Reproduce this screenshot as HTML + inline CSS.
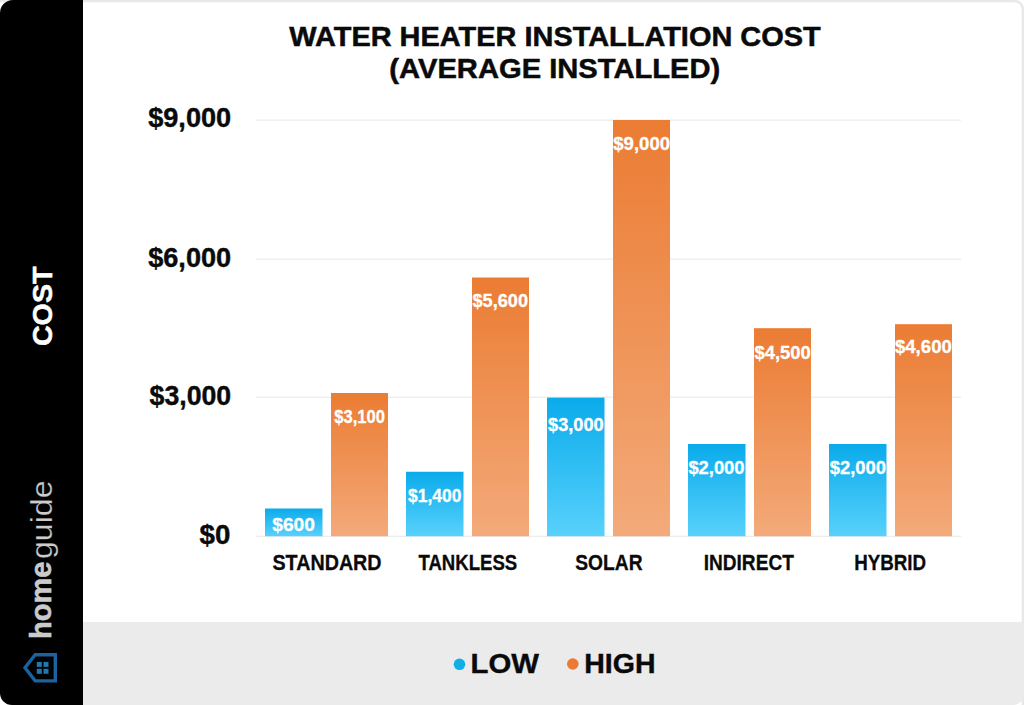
<!DOCTYPE html>
<html>
<head>
<meta charset="utf-8">
<style>
html,body{margin:0;padding:0;background:#fff;width:1024px;height:705px;overflow:hidden;}
svg{display:block;}
text{font-family:"Liberation Sans", sans-serif;}
</style>
</head>
<body>
<svg width="1024" height="705" viewBox="0 0 1024 705">
  <defs>
    <linearGradient id="gb" x1="0" y1="0" x2="0" y2="1">
      <stop offset="0" stop-color="#0aabeb"/>
      <stop offset="1" stop-color="#58d1fc"/>
    </linearGradient>
    <linearGradient id="go" x1="0" y1="0" x2="0" y2="1">
      <stop offset="0" stop-color="#eb7c33"/>
      <stop offset="1" stop-color="#f3aa7a"/>
    </linearGradient>
  </defs>
  <rect x="-20" y="1.15" width="1042.85" height="740" rx="8" ry="8" fill="#fff" stroke="#e8e8e8" stroke-width="2.3"/>
  <path d="M83 622 H1024 V694 A11 11 0 0 1 1013 705 H83 Z" fill="#ebebeb"/>
  <path d="M13 0 H83 V705 H12 A12 12 0 0 1 0 693 V13 A13 13 0 0 1 13 0 Z" fill="#000"/>
  <g fill="#ebebeb">
    <rect x="256" y="119.6" width="705" height="1.2"/>
    <rect x="256" y="258.5" width="705" height="1.2"/>
    <rect x="256" y="396.6" width="705" height="1.2"/>
    <rect x="256" y="535.7" width="705" height="1.2"/>
  </g>
  <g fill="url(#gb)">
    <rect x="265" y="508.5" width="57.5" height="27.75"/>
    <rect x="406" y="471.75" width="57.5" height="64.5"/>
    <rect x="547" y="397.6" width="57.5" height="138.65"/>
    <rect x="688" y="444" width="57.5" height="92.25"/>
    <rect x="829" y="444" width="57.5" height="92.25"/>
  </g>
  <g fill="url(#go)">
    <rect x="331" y="393" width="57" height="143.25"/>
    <rect x="472" y="277.5" width="57" height="258.75"/>
    <rect x="613" y="120" width="57" height="416.25"/>
    <rect x="754" y="328.2" width="57" height="208.05"/>
    <rect x="895" y="324.2" width="57" height="212.05"/>
  </g>
  <text x="289.28" y="46.2" font-size="28.0" font-weight="bold" fill="#0a0a0a" stroke="#0a0a0a" stroke-width="0.5" textLength="531.45" lengthAdjust="spacingAndGlyphs">WATER HEATER INSTALLATION COST</text>
  <text x="389.36" y="78.4" font-size="28.0" font-weight="bold" fill="#0a0a0a" stroke="#0a0a0a" stroke-width="0.5" textLength="330.94" lengthAdjust="spacingAndGlyphs">(AVERAGE INSTALLED)</text>
  <text x="148.18" y="127.41" font-size="26.8" font-weight="bold" fill="#0a0a0a" stroke="#0a0a0a" stroke-width="0.4" textLength="83.01" lengthAdjust="spacingAndGlyphs">$9,000</text>
  <text x="148.18" y="267.01" font-size="26.8" font-weight="bold" fill="#0a0a0a" stroke="#0a0a0a" stroke-width="0.4" textLength="83.01" lengthAdjust="spacingAndGlyphs">$6,000</text>
  <text x="149.59" y="405.01" font-size="26.8" font-weight="bold" fill="#0a0a0a" stroke="#0a0a0a" stroke-width="0.4" textLength="81.61" lengthAdjust="spacingAndGlyphs">$3,000</text>
  <text x="199.56" y="544.01" font-size="26.8" font-weight="bold" fill="#0a0a0a" stroke="#0a0a0a" stroke-width="0.4" textLength="30.76" lengthAdjust="spacingAndGlyphs">$0</text>
  <text x="272.46" y="570.0" font-size="22.5" font-weight="bold" fill="#0a0a0a" stroke="#0a0a0a" stroke-width="0.3" textLength="109.13" lengthAdjust="spacingAndGlyphs">STANDARD</text>
  <text x="418.48" y="570.0" font-size="22.5" font-weight="bold" fill="#0a0a0a" stroke="#0a0a0a" stroke-width="0.3" textLength="98.76" lengthAdjust="spacingAndGlyphs">TANKLESS</text>
  <text x="575.28" y="570.0" font-size="22.5" font-weight="bold" fill="#0a0a0a" stroke="#0a0a0a" stroke-width="0.3" textLength="67.24" lengthAdjust="spacingAndGlyphs">SOLAR</text>
  <text x="703.66" y="570.0" font-size="22.5" font-weight="bold" fill="#0a0a0a" stroke="#0a0a0a" stroke-width="0.3" textLength="90.19" lengthAdjust="spacingAndGlyphs">INDIRECT</text>
  <text x="854.2" y="570.0" font-size="22.5" font-weight="bold" fill="#0a0a0a" stroke="#0a0a0a" stroke-width="0.3" textLength="71.95" lengthAdjust="spacingAndGlyphs">HYBRID</text>
  <text x="470.61" y="673.0" font-size="27.5" font-weight="bold" fill="#0a0a0a" stroke="#0a0a0a" stroke-width="0.4" textLength="68.39" lengthAdjust="spacingAndGlyphs">LOW</text>
  <text x="584.28" y="673.0" font-size="27.5" font-weight="bold" fill="#0a0a0a" stroke="#0a0a0a" stroke-width="0.4" textLength="71.26" lengthAdjust="spacingAndGlyphs">HIGH</text>
  <text x="272.2" y="531.27" font-size="19.2" font-weight="bold" fill="#fff" stroke="#fff" stroke-width="0.3" textLength="42.81" lengthAdjust="spacingAndGlyphs">$600</text>
  <text x="334.28" y="422.97" font-size="19.2" font-weight="bold" fill="#fff" stroke="#fff" stroke-width="0.3" textLength="50.66" lengthAdjust="spacingAndGlyphs">$3,100</text>
  <text x="408.1" y="501.97" font-size="19.2" font-weight="bold" fill="#fff" stroke="#fff" stroke-width="0.3" textLength="53.26" lengthAdjust="spacingAndGlyphs">$1,400</text>
  <text x="472.46" y="306.77" font-size="19.2" font-weight="bold" fill="#fff" stroke="#fff" stroke-width="0.3" textLength="55.62" lengthAdjust="spacingAndGlyphs">$5,600</text>
  <text x="548.02" y="431.37" font-size="19.2" font-weight="bold" fill="#fff" stroke="#fff" stroke-width="0.3" textLength="55.73" lengthAdjust="spacingAndGlyphs">$3,000</text>
  <text x="613.28" y="149.67" font-size="19.2" font-weight="bold" fill="#fff" stroke="#fff" stroke-width="0.3" textLength="56.8" lengthAdjust="spacingAndGlyphs">$9,000</text>
  <text x="688.38" y="473.97" font-size="19.2" font-weight="bold" fill="#fff" stroke="#fff" stroke-width="0.3" textLength="56.18" lengthAdjust="spacingAndGlyphs">$2,000</text>
  <text x="754.46" y="358.52" font-size="19.2" font-weight="bold" fill="#fff" stroke="#fff" stroke-width="0.3" textLength="56.36" lengthAdjust="spacingAndGlyphs">$4,500</text>
  <text x="829.74" y="474.07" font-size="19.2" font-weight="bold" fill="#fff" stroke="#fff" stroke-width="0.3" textLength="56.36" lengthAdjust="spacingAndGlyphs">$2,000</text>
  <text x="894.92" y="353.07" font-size="19.2" font-weight="bold" fill="#fff" stroke="#fff" stroke-width="0.3" textLength="56.92" lengthAdjust="spacingAndGlyphs">$4,600</text>
  <circle cx="459.5" cy="664.3" r="5.8" fill="#12aee6"/>
  <circle cx="572.8" cy="664" r="5.8" fill="#ec7a34"/>
  <text transform="translate(52,306.3) rotate(-90)" text-anchor="middle" font-size="28" font-weight="bold" fill="#fff" stroke="#fff" stroke-width="0.5" textLength="79.6" lengthAdjust="spacingAndGlyphs">COST</text>
  <text transform="translate(51.25,639.1) rotate(-90)" font-size="30" font-weight="bold" fill="#cacaca" stroke="#cacaca" stroke-width="0.6" textLength="77.5" lengthAdjust="spacingAndGlyphs">home</text>
  <text transform="translate(51.9,559) rotate(-90)" font-size="30" fill="#cccccc" stroke="#000" stroke-width="0.3" textLength="78.5" lengthAdjust="spacingAndGlyphs">guide</text>
  <path d="M55.3 654.7 H35.2 L25 667.8 L35.2 680.9 H55.3 Z" fill="none" stroke="#1a62a0" stroke-width="3.4" stroke-linejoin="miter"/>
  <g fill="#1e78b4">
    <rect x="36.8" y="661.9" width="5" height="5"/>
    <rect x="43.5" y="661.9" width="5" height="5"/>
    <rect x="36.8" y="668.8" width="5" height="5"/>
    <rect x="43.5" y="668.8" width="5" height="5"/>
  </g>
</svg>
</body>
</html>
